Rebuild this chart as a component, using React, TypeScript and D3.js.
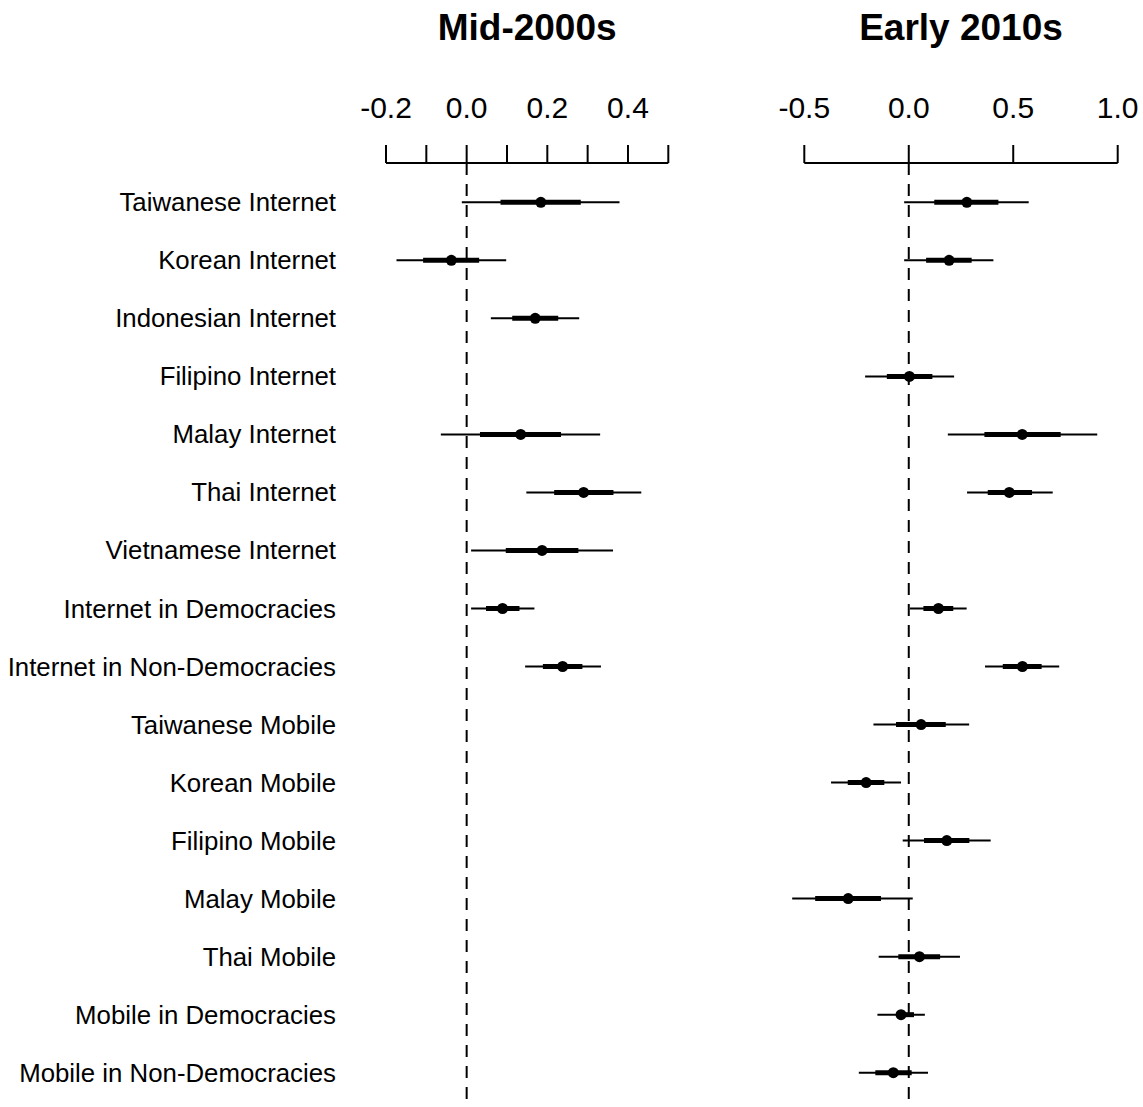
import React from "react";
import { scaleLinear, scalePoint } from "d3";

const labels = [
  "Taiwanese Internet",
  "Korean Internet",
  "Indonesian Internet",
  "Filipino Internet",
  "Malay Internet",
  "Thai Internet",
  "Vietnamese Internet",
  "Internet in Democracies",
  "Internet in Non-Democracies",
  "Taiwanese Mobile",
  "Korean Mobile",
  "Filipino Mobile",
  "Malay Mobile",
  "Thai Mobile",
  "Mobile in Democracies",
  "Mobile in Non-Democracies",
];

// [point, thick lo, thick hi, thin lo, thin hi], null = not estimated
const mid2000s = [
  [0.184, 0.084, 0.283, -0.012, 0.379],
  [-0.038, -0.108, 0.031, -0.174, 0.098],
  [0.17, 0.113, 0.227, 0.06, 0.279],
  null,
  [0.134, 0.033, 0.234, -0.064, 0.331],
  [0.29, 0.217, 0.364, 0.148, 0.433],
  [0.187, 0.097, 0.277, 0.011, 0.363],
  [0.089, 0.048, 0.131, 0.011, 0.168],
  [0.238, 0.189, 0.287, 0.145, 0.333],
  null,
  null,
  null,
  null,
  null,
  null,
  null,
];

const early2010s = [
  [0.278, 0.122, 0.429, -0.022, 0.574],
  [0.193, 0.083, 0.301, -0.022, 0.405],
  null,
  [0.003, -0.105, 0.113, -0.209, 0.217],
  [0.543, 0.362, 0.727, 0.187, 0.902],
  [0.481, 0.378, 0.59, 0.279, 0.689],
  null,
  [0.142, 0.07, 0.213, 0.006, 0.277],
  [0.544, 0.45, 0.636, 0.365, 0.72],
  [0.059, -0.061, 0.177, -0.169, 0.289],
  [-0.204, -0.292, -0.117, -0.372, -0.037],
  [0.182, 0.073, 0.29, -0.029, 0.392],
  [-0.29, -0.448, -0.133, -0.558, 0.019],
  [0.051, -0.05, 0.15, -0.144, 0.245],
  [-0.037, -0.05, 0.025, -0.15, 0.077],
  [-0.074, -0.16, 0.014, -0.239, 0.092],
];

const leftTicks = [-0.2, -0.1, 0, 0.1, 0.2, 0.3, 0.4, 0.5];
const leftTickLabels = ["-0.2", "0.0", "0.2", "0.4"];
const leftLabelAt = [-0.2, 0, 0.2, 0.4];
const rightTicks = [-0.5, 0, 0.5, 1.0];
const rightTickLabels = ["-0.5", "0.0", "0.5", "1.0"];

const font = "Liberation Sans, Arial, Helvetica, sans-serif";
const W = 1143;
const H = 1107;
const axisY = 163;

const y = scalePoint().domain(labels).range([202.3, 1072.7]);
const xLeft = scaleLinear().domain([-0.2, 0.5]).range([386, 668.3]);
const xRight = scaleLinear().domain([-0.5, 1.0]).range([804.3, 1117.7]);

function Panel({ title, x, ticks, labelAt, tickLabels, data }) {
  const [x0, x1] = x.range();
  return (
    <g>
      <text x={(x0 + x1) / 2} y={40} textAnchor="middle" fontSize={37} fontWeight="bold" fontFamily={font}>
        {title}
      </text>
      {labelAt.map((v, i) => (
        <text key={i} x={x(v)} y={118} textAnchor="middle" fontSize={30} fontFamily={font}>
          {tickLabels[i]}
        </text>
      ))}
      <line x1={x0} x2={x1} y1={axisY} y2={axisY} stroke="#000" strokeWidth={2} />
      {ticks.map((v) => (
        <line key={v} x1={x(v)} x2={x(v)} y1={axisY} y2={axisY - 18} stroke="#000" strokeWidth={2} />
      ))}
      <line x1={x(0)} x2={x(0)} y1={axisY} y2={H} stroke="#000" strokeWidth={2} strokeDasharray="12,9" />
      {data.map((d, i) => {
        if (!d) return null;
        const yy = y(labels[i]);
        return (
          <g key={i}>
            <line x1={x(d[3])} x2={x(d[4])} y1={yy} y2={yy} stroke="#000" strokeWidth={2} />
            <line x1={x(d[1])} x2={x(d[2])} y1={yy} y2={yy} stroke="#000" strokeWidth={5} />
            <circle cx={x(d[0])} cy={yy} r={5.5} fill="#000" />
          </g>
        );
      })}
    </g>
  );
}

export default function App() {
  return (
    <svg width={W} height={H} style={{ position: "absolute", left: 0, top: 0, background: "#fff" }}>
      <rect width={W} height={H} fill="#fff" />
      {labels.map((l) => (
        <text key={l} x={336} y={y(l)} dy="0.35em" textAnchor="end" fontSize={25.8} fontFamily={font}>
          {l}
        </text>
      ))}
      <Panel title="Mid-2000s" x={xLeft} ticks={leftTicks} labelAt={leftLabelAt} tickLabels={leftTickLabels} data={mid2000s} />
      <Panel title="Early 2010s" x={xRight} ticks={rightTicks} labelAt={rightTicks} tickLabels={rightTickLabels} data={early2010s} />
    </svg>
  );
}
